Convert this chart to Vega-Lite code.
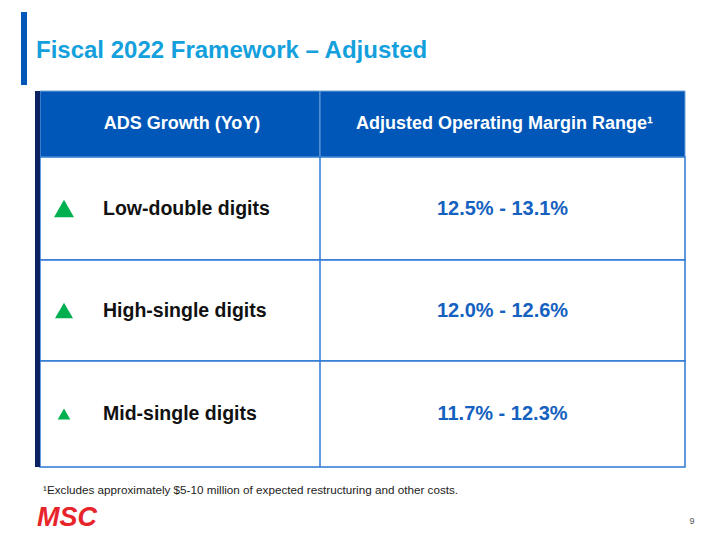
{
  "$schema": "https://vega.github.io/schema/vega-lite/v6.json",
  "width": 720,
  "height": 540,
  "autosize": {"type": "none"},
  "padding": 0,
  "background": "white",
  "config": {"view": {"stroke": null}, "font": "Liberation Sans"},
  "datasets": {
    "header": [
      {"col": 0, "label": "ADS Growth (YoY)"},
      {"col": 1, "label": "Adjusted Operating Margin Range¹"}
    ],
    "scenarios": [
      {"row": 1, "growth": "Low-double digits", "range": "12.5% - 13.1%", "level": 3},
      {"row": 2, "growth": "High-single digits", "range": "12.0% - 12.6%", "level": 2},
      {"row": 3, "growth": "Mid-single digits", "range": "11.7% - 12.3%", "level": 1}
    ]
  },
  "layer": [
    {
      "data": {"values": [{}]},
      "mark": {"type": "rect", "color": "#0057B8"},
      "encoding": {
        "x": {"value": 21}, "x2": {"value": 27},
        "y": {"value": 12}, "y2": {"value": 85}
      }
    },
    {
      "data": {"values": [{"t": "Fiscal 2022 Framework – Adjusted"}]},
      "mark": {"type": "text", "align": "left", "baseline": "alphabetic", "fontSize": 24, "fontWeight": "bold", "color": "#14A0DC"},
      "encoding": {"x": {"value": 36}, "y": {"value": 58}, "text": {"field": "t"}}
    },
    {
      "data": {"name": "header"},
      "transform": [{"calculate": "datum.col + 1", "as": "col_end"}],
      "mark": {"type": "rect", "color": "#0057B8", "stroke": "#6FA3DC", "strokeWidth": 1},
      "encoding": {
        "x": {"field": "col", "type": "quantitative", "axis": null, "scale": {"type": "linear", "domain": [0, 1, 2], "range": [40, 320, 685], "nice": false, "zero": false}},
        "x2": {"field": "col_end"},
        "y": {"datum": 0, "type": "quantitative", "axis": null, "scale": {"type": "linear", "domain": [0, 1, 2, 3, 4], "range": [91, 157, 260, 361, 467], "nice": false, "zero": false}},
        "y2": {"datum": 1}
      }
    },
    {
      "data": {"name": "header"},
      "transform": [{"calculate": "datum.col + 0.5", "as": "mid"}],
      "mark": {"type": "text", "align": "center", "baseline": "middle", "fontSize": 18, "fontWeight": "bold", "color": "white", "dx": 2},
      "encoding": {
        "x": {"field": "mid", "type": "quantitative"},
        "y": {"datum": 0.5, "type": "quantitative"},
        "text": {"field": "label"}
      }
    },
    {
      "data": {"name": "scenarios"},
      "transform": [{"calculate": "datum.row + 1", "as": "row_end"}],
      "mark": {"type": "rect", "fill": "white", "stroke": "#2E78D2", "strokeWidth": 1.5},
      "encoding": {
        "x": {"datum": 0, "type": "quantitative"},
        "x2": {"datum": 2},
        "y": {"field": "row", "type": "quantitative"},
        "y2": {"field": "row_end"}
      }
    },
    {
      "data": {"values": [{}]},
      "mark": {"type": "rule", "color": "#2E78D2", "strokeWidth": 1.5},
      "encoding": {
        "x": {"datum": 1, "type": "quantitative"},
        "y": {"datum": 1, "type": "quantitative"},
        "y2": {"datum": 4}
      }
    },
    {
      "data": {"values": [{}]},
      "mark": {"type": "rect", "color": "#0B2263", "xOffset": -5},
      "encoding": {
        "x": {"datum": 0, "type": "quantitative"},
        "x2": {"datum": 0},
        "y": {"datum": 0, "type": "quantitative"},
        "y2": {"datum": 4}
      }
    },
    {
      "data": {"name": "scenarios"},
      "transform": [{"calculate": "datum.row + 0.5", "as": "row_mid"}],
      "mark": {"type": "point", "shape": "triangle-up", "filled": true, "opacity": 1, "color": "#00B050", "xOffset": 24},
      "encoding": {
        "x": {"datum": 0, "type": "quantitative"},
        "y": {"field": "row_mid", "type": "quantitative"},
        "size": {"field": "level", "type": "quantitative", "legend": null, "scale": {"domain": [1, 2, 3], "range": [160, 324, 400]}}
      }
    },
    {
      "data": {"name": "scenarios"},
      "transform": [{"calculate": "datum.row + 0.5", "as": "row_mid"}],
      "mark": {"type": "text", "align": "left", "baseline": "middle", "fontSize": 19.5, "fontWeight": "bold", "color": "#111111", "dx": 63},
      "encoding": {
        "x": {"datum": 0, "type": "quantitative"},
        "y": {"field": "row_mid", "type": "quantitative"},
        "text": {"field": "growth"}
      }
    },
    {
      "data": {"name": "scenarios"},
      "transform": [{"calculate": "datum.row + 0.5", "as": "row_mid"}],
      "mark": {"type": "text", "align": "center", "baseline": "middle", "fontSize": 20, "fontWeight": "bold", "color": "#1461C0"},
      "encoding": {
        "x": {"datum": 1.5, "type": "quantitative"},
        "y": {"field": "row_mid", "type": "quantitative"},
        "text": {"field": "range"}
      }
    },
    {
      "data": {"values": [{"t": "¹Excludes approximately $5-10 million  of expected restructuring and other costs."}]},
      "mark": {"type": "text", "align": "left", "baseline": "middle", "fontSize": 11.7, "color": "#222222"},
      "encoding": {"x": {"value": 43}, "y": {"value": 490}, "text": {"field": "t"}}
    },
    {
      "data": {"values": [{"t": "MSC"}]},
      "mark": {"type": "text", "align": "left", "baseline": "middle", "fontSize": 27, "fontWeight": "bold", "fontStyle": "italic", "color": "#E8242B"},
      "encoding": {"x": {"value": 37}, "y": {"value": 518}, "text": {"field": "t"}}
    },
    {
      "data": {"values": [{"t": "9"}]},
      "mark": {"type": "text", "align": "center", "baseline": "middle", "fontSize": 9, "color": "#555555"},
      "encoding": {"x": {"value": 692}, "y": {"value": 521}, "text": {"field": "t"}}
    }
  ]
}
